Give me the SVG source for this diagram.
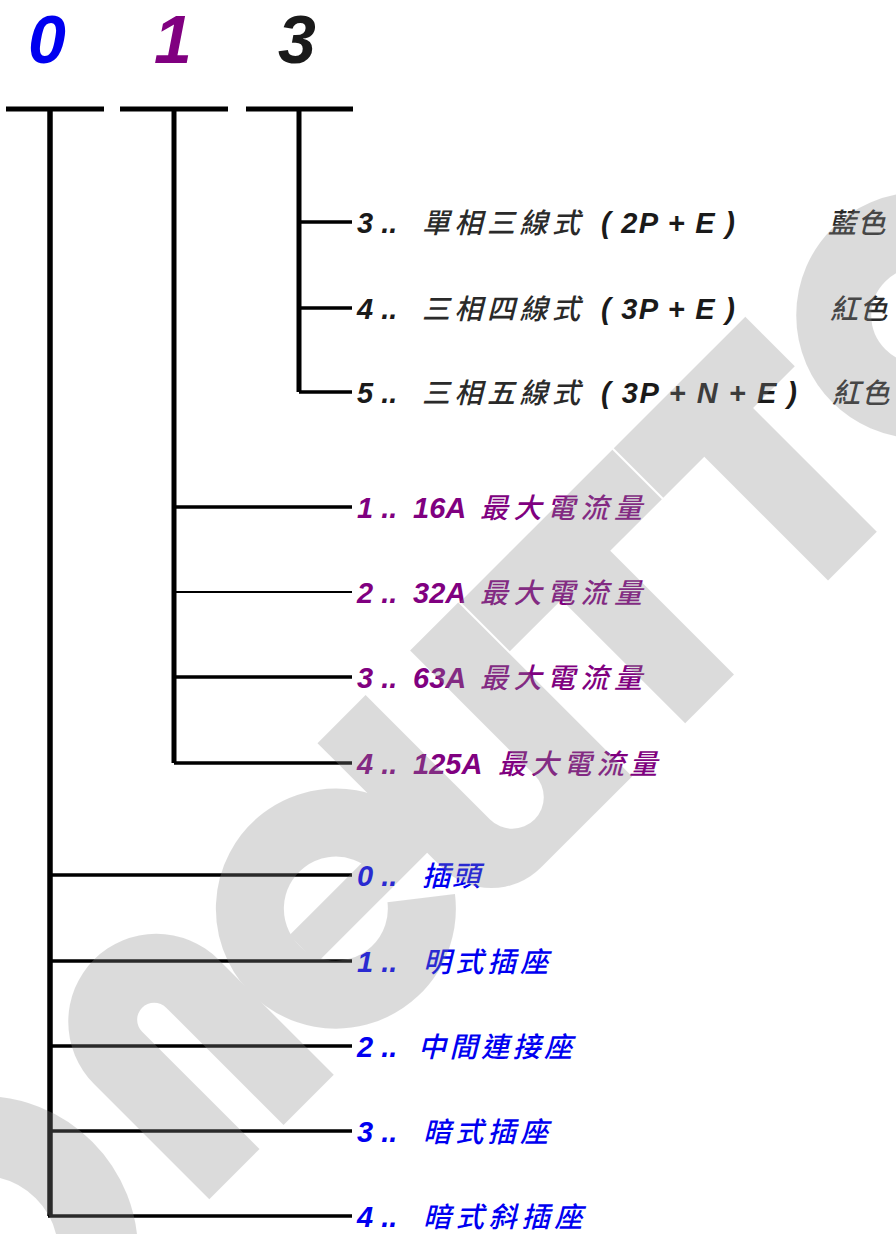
<svg xmlns="http://www.w3.org/2000/svg" width="896" height="1234" viewBox="0 0 896 1234">
<style>
.hd{font-family:"Liberation Sans",Arial,sans-serif;font-weight:bold;font-style:italic;font-size:68px;text-anchor:middle}
.lt{font-family:"Liberation Sans",Arial,sans-serif;font-weight:bold;font-style:italic;font-size:29px}
.cj{font-family:"Noto Sans CJK TC","Noto Sans CJK SC",sans-serif;font-style:italic;font-weight:500;font-size:28px}
.k{fill:#1a1a1a}
.kc{fill:#2a2a2a}
.p{fill:#800080}
.b{fill:#0000f0}
.ln{stroke:#000;fill:none}
.wm{fill:#8c8c8c}
.wms{fill:none;stroke:#8c8c8c}
</style>
<rect width="896" height="1234" fill="#ffffff"/>

<g id="headers">
  <text class="hd b" x="47" y="63">0</text>
  <text class="hd p" x="173" y="63">1</text>
  <text class="hd k" x="297" y="63">3</text>
</g>

<g id="connectors" class="ln">
  <path d="M6,109 H104 M120,109 H228 M246,109 H353" stroke-width="5"/>
  <path d="M50,109 V1216" stroke-width="5.5"/>
  <path d="M174,109 V763" stroke-width="5"/>
  <path d="M299,109 V392" stroke-width="5"/>
  <path d="M299,222 H352 M299,308 H352 M299,392 H352" stroke-width="3.5"/>
  <path d="M174,507 H352 M174,677 H352 M174,763 H352" stroke-width="3.5"/>
  <path d="M174,592 H352" stroke-width="2"/>
  <path d="M50,875 H352 M50,961 H352 M50,1046 H352 M50,1131 H352 M48,1216 H352" stroke-width="3.5"/>
</g>

<g id="node-3-3">
  <text class="lt k" x="357" y="233">3 ..</text>
  <text class="cj kc" x="422" y="233" letter-spacing="4.5">單相三線式</text>
  <text class="lt k" x="601" y="233" textLength="134" lengthAdjust="spacing">( 2P + E )</text>
  <text class="cj kc" x="828" y="233" letter-spacing="1.5">藍色</text>
</g>
<g id="node-3-4">
  <text class="lt k" x="357" y="319">4 ..</text>
  <text class="cj kc" x="422" y="319" letter-spacing="4.5">三相四線式</text>
  <text class="lt k" x="601" y="319" textLength="134" lengthAdjust="spacing">( 3P + E )</text>
  <text class="cj kc" x="830" y="319" letter-spacing="1.5">紅色</text>
</g>
<g id="node-3-5">
  <text class="lt k" x="357" y="403">5 ..</text>
  <text class="cj kc" x="422" y="403" letter-spacing="4.5">三相五線式</text>
  <text class="lt k" x="601" y="403" textLength="196" lengthAdjust="spacing">( 3P + N + E )</text>
  <text class="cj kc" x="832" y="403" letter-spacing="1.5">紅色</text>
</g>

<g id="node-1-1">
  <text class="lt p" x="357" y="518">1 ..</text>
  <text class="lt p" x="413" y="518">16A</text>
  <text class="cj p" x="480" y="518" letter-spacing="5.5">最大電流量</text>
</g>
<g id="node-1-2">
  <text class="lt p" x="357" y="603">2 ..</text>
  <text class="lt p" x="413" y="603">32A</text>
  <text class="cj p" x="480" y="603" letter-spacing="5.5">最大電流量</text>
</g>
<g id="node-1-3">
  <text class="lt p" x="357" y="688">3 ..</text>
  <text class="lt p" x="413" y="688">63A</text>
  <text class="cj p" x="480" y="688" letter-spacing="5.5">最大電流量</text>
</g>
<g id="node-1-4">
  <text class="lt p" x="357" y="774">4 ..</text>
  <text class="lt p" x="413" y="774">125A</text>
  <text class="cj p" x="498" y="774" letter-spacing="4.8">最大電流量</text>
</g>

<g id="node-0-0">
  <text class="lt b" x="357" y="886">0 ..</text>
  <text class="cj b" x="422" y="886" letter-spacing="2">插頭</text>
</g>
<g id="node-0-1">
  <text class="lt b" x="357" y="972">1 ..</text>
  <text class="cj b" x="423" y="972" letter-spacing="4.3">明式插座</text>
</g>
<g id="node-0-2">
  <text class="lt b" x="357" y="1057">2 ..</text>
  <text class="cj b" x="418" y="1057" letter-spacing="3.5">中間連接座</text>
</g>
<g id="node-0-3">
  <text class="lt b" x="357" y="1142">3 ..</text>
  <text class="cj b" x="423" y="1142" letter-spacing="4.3">暗式插座</text>
</g>
<g id="node-0-4">
  <text class="lt b" x="357" y="1227">4 ..</text>
  <text class="cj b" x="423" y="1227" letter-spacing="4.8">暗式斜插座</text>
</g>

<g id="watermark" opacity="0.3">
  <circle class="wms" cx="-18" cy="1252" r="116" stroke-width="80"/>
  <g transform="rotate(-45)">
    <path class="wm" d="M-700,996 V833 A88,88 0 0 1 -524,833 V996 H-595 V830 A17,17 0 0 0 -629,830 V996 Z"/>
    <path class="wms" d="M-319,880 A86,86 0 1 0 -337.2,932.9" stroke-width="68"/>
    <rect class="wm" x="-457" y="866" width="172" height="39"/>
    <path class="wm" d="M-301,750 H-233 V926 A31.5,31.5 0 0 0 -170,926 V750 H-102 V996 H-231 A70,70 0 0 1 -301,926 Z"/>
    <path class="wm" d="M-100,751 H115 V821 H42 V996 H-27 V821 H-100 Z"/>
    <path class="wm" d="M117,751 H303 V821 H244 V996 H175 V821 H117 Z"/>
    <circle class="wms" cx="427" cy="873" r="85.5" stroke-width="75"/>
  </g>
</g>
</svg>
